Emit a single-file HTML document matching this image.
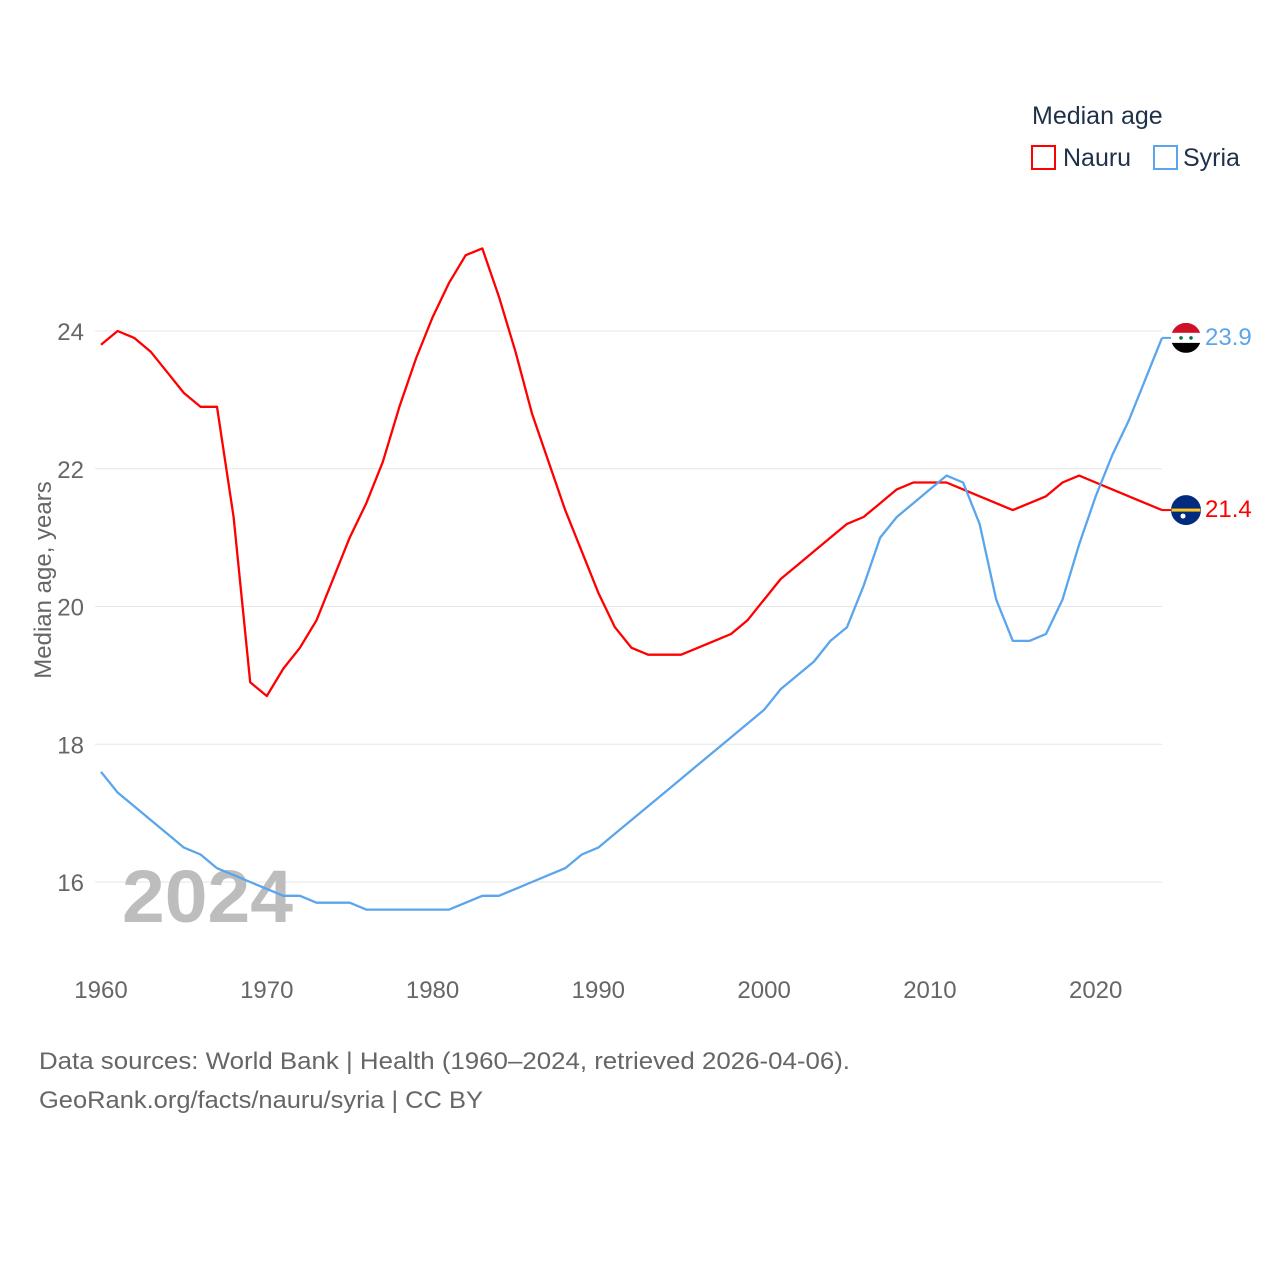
<!DOCTYPE html>
<html><head><meta charset="utf-8">
<style>
body{margin:0;background:#fff;font-family:"Liberation Sans",sans-serif;}
svg text{font-family:"Liberation Sans",sans-serif;}
</style></head>
<body>
<svg id="chart" width="1280" height="1280" viewBox="0 0 1280 1280" xmlns="http://www.w3.org/2000/svg">
<rect width="1280" height="1280" fill="#fff"/>
<g id="grid"></g>
<g id="yticks"></g>
<g id="xticks"></g>
<text x="122" y="922" font-size="74" font-weight="bold" fill="#bdbdbd" textLength="171" lengthAdjust="spacingAndGlyphs">2024</text>
<text transform="translate(51,580) rotate(-90)" text-anchor="middle" font-size="24" fill="#666">Median age, years</text>
<g id="series"></g>
<g>
<text x="1032" y="124" font-size="25" fill="#1f3049">Median age</text>
<rect x="1032" y="146" width="23" height="23" fill="none" stroke="#ff0000" stroke-width="2"/>
<text x="1063" y="166" font-size="25" fill="#1f3049">Nauru</text>
<rect x="1154" y="146" width="23" height="23" fill="none" stroke="#5aa5ec" stroke-width="2"/>
<text x="1183" y="166" font-size="25" fill="#1f3049">Syria</text>
</g>
<text x="39" y="1069" font-size="24" fill="#666" textLength="811" lengthAdjust="spacingAndGlyphs">Data sources: World Bank | Health (1960–2024, retrieved 2026-04-06).</text>
<text x="39" y="1108" font-size="24" fill="#666" textLength="444" lengthAdjust="spacingAndGlyphs">GeoRank.org/facts/nauru/syria | CC BY</text>
</svg>
<script>
const years = [];
for (let y = 1960; y <= 2024; y++) years.push(y);
const nauruValues = [23.8,24.0,23.9,23.7,23.4,23.1,22.9,22.9,21.3,18.9,18.7,19.1,19.4,19.8,20.4,21.0,21.5,22.1,22.9,23.6,24.2,24.7,25.1,25.2,24.5,23.7,22.8,22.1,21.4,20.8,20.2,19.7,19.4,19.3,19.3,19.3,19.4,19.5,19.6,19.8,20.1,20.4,20.6,20.8,21.0,21.2,21.3,21.5,21.7,21.8,21.8,21.8,21.7,21.6,21.5,21.4,21.5,21.6,21.8,21.9,21.8,21.7,21.6,21.5,21.4];
const syriaValues = [17.6,17.3,17.1,16.9,16.7,16.5,16.4,16.2,16.1,16.0,15.9,15.8,15.8,15.7,15.7,15.7,15.6,15.6,15.6,15.6,15.6,15.6,15.7,15.8,15.8,15.9,16.0,16.1,16.2,16.4,16.5,16.7,16.9,17.1,17.3,17.5,17.7,17.9,18.1,18.3,18.5,18.8,19.0,19.2,19.5,19.7,20.3,21.0,21.3,21.5,21.7,21.9,21.8,21.2,20.1,19.5,19.5,19.6,20.1,20.9,21.6,22.2,22.7,23.3,23.9];
const yTicks = [16,18,20,22,24];
const xTicks = [1960,1970,1980,1990,2000,2010,2020];
const NS = "http://www.w3.org/2000/svg";
const xs = y => 101 + (y - 1960) * (1162 - 101) / 64;
const ys = v => 331 + (24 - v) * (882 - 331) / 8;
function mk(tag, attrs, parent){const e=document.createElementNS(NS,tag);for(const k in attrs)e.setAttribute(k,attrs[k]);parent.appendChild(e);return e;}
const grid=document.getElementById('grid'), yt=document.getElementById('yticks'), xt=document.getElementById('xticks'), ser=document.getElementById('series');
yTicks.forEach(v=>{
  const l=mk('line',{x1:95,x2:1162,y1:ys(v),y2:ys(v),stroke:'#e6e6e6','stroke-width':1},grid);
  
  
  const t=mk('text',{x:84,y:ys(v)+9,'text-anchor':'end','font-size':24,fill:'#666'},yt);
  t.textContent=v;
  
  
});
xTicks.forEach(v=>{
  const t=mk('text',{x:xs(v),y:998,'text-anchor':'middle','font-size':24,fill:'#666'},xt);
  t.textContent=v;
  
  
});
function line(vals,color,name){
  const d=vals.map((v,i)=>(i?'L':'M')+xs(years[i]).toFixed(1)+','+ys(v).toFixed(1)).join('');
  const p=mk('path',{d:d,fill:'none',stroke:color,'stroke-width':2.3,'stroke-linejoin':'round'},ser);
  
  
  const last=vals[vals.length-1], ly=ys(last);
  const c=mk('line',{x1:xs(2024),x2:1172,y1:ly,y2:ly,stroke:color,'stroke-width':2},ser);
  
  
  const t=mk('text',{x:1205,y:ly+7,'font-size':24,fill:color},ser);
  t.textContent=last.toFixed(1);
  
  
  return ly;
}
const ny=line(nauruValues,'#ff0000','nauru');
const sy=line(syriaValues,'#5aa5ec','syria');
const fs=mk('g',{},ser);


mk('clipPath',{id:'cs'},fs).appendChild(document.createElementNS(NS,'circle'));
const cs=document.querySelector('#cs circle');cs.setAttribute('cx',1186);cs.setAttribute('cy',sy);cs.setAttribute('r',15);
mk('rect',{x:1171,y:sy-15,width:30,height:10,fill:'#ce1126','clip-path':'url(#cs)'},fs);
mk('rect',{x:1171,y:sy-5,width:30,height:10,fill:'#fff','clip-path':'url(#cs)'},fs);
mk('rect',{x:1171,y:sy+5,width:30,height:10,fill:'#000','clip-path':'url(#cs)'},fs);
mk('circle',{cx:1181,cy:sy,r:1.8,fill:'#007a3d'},fs);
mk('circle',{cx:1191,cy:sy,r:1.8,fill:'#007a3d'},fs);
const fn=mk('g',{},ser);


mk('circle',{cx:1186,cy:ny,r:15,fill:'#002b7f'},fn);
mk('rect',{x:1171.5,y:ny-1.5,width:29,height:3,fill:'#ffc61e'},fn);
mk('circle',{cx:1183,cy:ny+6,r:2.5,fill:'#fff'},fn);
</script>
</body></html>
